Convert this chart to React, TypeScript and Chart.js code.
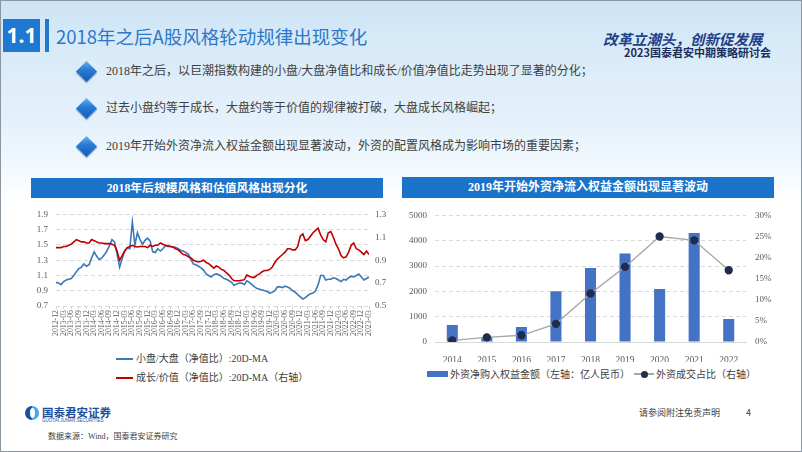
import React, { useEffect, useRef } from 'react';
import { Chart, registerables } from 'chart.js';

Chart.register(...registerables);

const SERIF = '"Liberation Serif", "Times New Roman", "Noto Sans CJK SC", serif';
const CJK = '"Noto Sans CJK SC", "Noto Sans", sans-serif';

// ---------- left chart data ----------
const QUARTER_LABELS = [
  '2012-12',
  '2013-03', '2013-06', '2013-09', '2013-12',
  '2014-03', '2014-06', '2014-09', '2014-12',
  '2015-03', '2015-06', '2015-09', '2015-12',
  '2016-03', '2016-06', '2016-09', '2016-12',
  '2017-03', '2017-06', '2017-09', '2017-12',
  '2018-03', '2018-06', '2018-09', '2018-12',
  '2019-03', '2019-06', '2019-09', '2019-12',
  '2020-03', '2020-06', '2020-09', '2020-12',
  '2021-03', '2021-06', '2021-09', '2021-12',
  '2022-03', '2022-06', '2022-09', '2022-12',
  '2023-03',
];

// monthly readings, 2012-12 .. 2023-03
const SMALL_LARGE = [
  1.01, 1.00, 0.98, 1.02, 1.04, 1.05, 1.06, 1.10, 1.15, 1.19, 1.21, 1.25,
  1.22, 1.24, 1.33, 1.41, 1.35, 1.31, 1.33, 1.37, 1.42, 1.49, 1.57, 1.54,
  1.38, 1.21, 1.32, 1.42, 1.46, 1.45, 1.80, 1.50, 1.66, 1.57, 1.51, 1.56,
  1.59, 1.55, 1.41, 1.40, 1.45, 1.42, 1.45, 1.49, 1.48, 1.48, 1.47, 1.47,
  1.45, 1.43, 1.42, 1.40, 1.38, 1.31, 1.25, 1.24, 1.22, 1.20, 1.17, 1.12,
  1.10, 1.08, 1.11, 1.12, 1.11, 1.09, 1.06, 1.05, 1.03, 1.01, 0.97, 0.99,
  1.00, 1.00, 0.98, 1.03, 1.01, 0.98, 0.95, 0.93, 0.92, 0.91, 0.90, 0.89,
  0.87, 0.88, 0.90, 0.95, 0.95, 0.94, 0.96, 0.95, 0.93, 0.90, 0.88, 0.85,
  0.82, 0.79, 0.81, 0.84, 0.86, 0.87, 0.90, 0.98, 1.10, 1.10, 1.04, 1.05,
  1.05, 1.07, 1.06, 1.04, 1.02, 1.05, 1.04, 1.07, 1.09, 1.08, 1.10, 1.12,
  1.08, 1.04, 1.06, 1.08,
];

const GROWTH_VALUE = [
  1.01, 1.01, 1.01, 1.02, 1.02, 1.03, 1.04, 1.06, 1.08, 1.07, 1.06, 1.06,
  1.05, 1.05, 1.08, 1.07, 1.06, 1.05, 1.05, 1.045, 1.045, 1.045, 1.04, 1.03,
  0.98, 0.90, 0.94, 0.98, 1.01, 1.02, 1.03, 1.02, 1.015, 1.02, 1.02, 1.02,
  1.01, 1.03, 1.02, 1.03, 1.03, 1.05, 1.04, 1.03, 1.025, 1.02, 1.015, 1.00,
  0.99, 0.97, 0.95, 0.945, 0.93, 0.92, 0.90, 0.89, 0.885, 0.89, 0.90, 0.88,
  0.87, 0.85, 0.83, 0.85, 0.84, 0.82, 0.81, 0.79, 0.77, 0.74, 0.72, 0.72,
  0.72, 0.725, 0.73, 0.77, 0.76, 0.75, 0.75, 0.77, 0.78, 0.80, 0.81, 0.81,
  0.82, 0.84, 0.88, 0.91, 0.93, 0.95, 0.97, 1.00, 1.00, 0.99, 0.99, 1.02,
  1.11, 1.13, 1.07, 1.08, 1.11, 1.14, 1.16, 1.18, 1.12, 1.08, 1.06, 1.14,
  1.15, 1.10, 1.04, 1.00, 0.94, 0.92, 0.93, 0.97, 1.03, 1.05, 1.00, 0.99,
  0.97, 0.95, 0.98, 0.95,
];

const LEFT_LEGEND = ['小盘/大盘（净值比）:20D-MA', '成长/价值（净值比）:20D-MA（右轴）'];

// ---------- right chart data ----------
const YEARS = ['2014', '2015', '2016', '2017', '2018', '2019', '2020', '2021', '2022'];
const NET_BUY = [670, 190, 590, 2000, 2920, 3500, 2090, 4300, 910];
const TURNOVER_SHARE = [0.4, 1.1, 1.6, 4.3, 11.5, 17.8, 25.0, 24.1, 17.0];
const RIGHT_LEGEND = ['外资净购入权益金额（左轴：亿人民币）', '外资成交占比（右轴）'];

const BULLETS = [
  '2018年之后，以巨潮指数构建的小盘/大盘净值比和成长/价值净值比走势出现了显著的分化；',
  '过去小盘约等于成长，大盘约等于价值的规律被打破，大盘成长风格崛起；',
  '2019年开始外资净流入权益金额出现显著波动，外资的配置风格成为影响市场的重要因素；',
];

const GRID = '#d9d9d9';
const TICK = '#595959';

function StyleChart() {
  const ref = useRef<HTMLCanvasElement>(null);
  useEffect(() => {
    const chart = new Chart(ref.current!, {
      type: 'line',
      data: {
        datasets: [
          {
            label: LEFT_LEGEND[0],
            data: SMALL_LARGE.map((y, i) => ({ x: i, y })),
            yAxisID: 'y',
            borderColor: '#3a78b6',
            borderWidth: 1.6,
            pointRadius: 0,
            tension: 0,
            order: 2,
          },
          {
            label: LEFT_LEGEND[1],
            data: GROWTH_VALUE.map((y, i) => ({ x: i, y })),
            yAxisID: 'y1',
            borderColor: '#c00000',
            borderWidth: 1.6,
            pointRadius: 0,
            tension: 0,
            order: 1,
          },
        ],
      },
      options: {
        animation: false,
        responsive: false,
        maintainAspectRatio: false,
        layout: { padding: { top: 9, left: 0, right: 0, bottom: 0 } },
        plugins: { legend: { display: false }, tooltip: { enabled: false } },
        scales: {
          x: {
            type: 'linear',
            min: 0,
            max: 123,
            ticks: {
              stepSize: 3,
              autoSkip: false,
              maxRotation: 90,
              minRotation: 90,
              padding: 1,
              color: TICK,
              font: { family: SERIF, size: 7.8 },
              callback: (v: any) => QUARTER_LABELS[Math.round(Number(v) / 3)] ?? '',
            },
            grid: { drawOnChartArea: false, drawTicks: true, tickLength: 3, color: '#d0d0d0' },
            border: { display: false },
            afterFit: (s: any) => { s.height = 34; },
          },
          y: {
            position: 'left',
            min: 0.7,
            max: 1.9,
            ticks: {
              stepSize: 0.2,
              padding: 8,
              color: TICK,
              font: { family: SERIF, size: 9 },
              callback: (v: any) => Number(v).toFixed(1),
            },
            grid: { color: GRID, drawTicks: false },
            border: { display: false, dash: [4, 3] },
            afterFit: (s: any) => { s.width = 35; },
          },
          y1: {
            position: 'right',
            min: 0.5,
            max: 1.3,
            ticks: {
              stepSize: 0.2,
              padding: 6,
              color: TICK,
              font: { family: SERIF, size: 9 },
              callback: (v: any) => Number(v).toFixed(1),
            },
            grid: { drawOnChartArea: false, drawTicks: false },
            border: { display: false },
            afterFit: (s: any) => { s.width = 27; },
          },
        },
      },
    } as any);
    return () => chart.destroy();
  }, []);
  return (
    <canvas
      ref={ref}
      width={375}
      height={139}
      style={{ position: 'absolute', left: 20, top: 200, width: 375, height: 139 }}
    />
  );
}

function FlowChart() {
  const ref = useRef<HTMLCanvasElement>(null);
  useEffect(() => {
    const chart = new Chart(ref.current!, {
      type: 'bar',
      data: {
        labels: YEARS,
        datasets: [
          {
            type: 'line',
            label: RIGHT_LEGEND[1],
            data: TURNOVER_SHARE,
            yAxisID: 'y1',
            borderColor: '#a6a6a6',
            borderWidth: 1.3,
            pointRadius: 3.5,
            pointBackgroundColor: '#1f2c4c',
            pointBorderColor: '#1f2c4c',
            tension: 0,
            order: 1,
          },
          {
            type: 'bar',
            label: RIGHT_LEGEND[0],
            data: NET_BUY,
            yAxisID: 'y',
            backgroundColor: '#4472c4',
            barPercentage: 0.32,
            categoryPercentage: 1,
            order: 2,
          },
        ],
      },
      options: {
        animation: false,
        responsive: false,
        maintainAspectRatio: false,
        layout: { padding: { top: 10, left: 0, right: 0, bottom: 0 } },
        plugins: { legend: { display: false }, tooltip: { enabled: false } },
        scales: {
          x: {
            grid: { display: false },
            border: { display: true, color: GRID, width: 1 },
            ticks: { color: TICK, padding: 5, autoSkip: false, maxRotation: 0, font: { family: SERIF, size: 9.5 } },
            afterFit: (s: any) => { s.height = 20; },
          },
          y: {
            position: 'left',
            min: 0,
            max: 5000,
            ticks: {
              stepSize: 1000,
              padding: 8,
              color: TICK,
              font: { family: SERIF, size: 9 },
              callback: (v: any) => String(Math.round(Number(v))),
            },
            grid: { color: GRID, drawTicks: false },
            border: { display: false, dash: [4, 3] },
            afterFit: (s: any) => { s.width = 34; },
          },
          y1: {
            position: 'right',
            min: 0,
            max: 30,
            ticks: {
              stepSize: 5,
              padding: 9,
              color: TICK,
              font: { family: SERIF, size: 9 },
              callback: (v: any) => `${v}%`,
            },
            grid: { drawOnChartArea: false, drawTicks: false },
            border: { display: false },
            afterFit: (s: any) => { s.width = 45; },
          },
        },
      },
    } as any);
    return () => chart.destroy();
  }, []);
  return (
    <canvas
      ref={ref}
      width={390}
      height={161}
      style={{ position: 'absolute', left: 400, top: 200, width: 390, height: 161 }}
    />
  );
}

const abs = (s: React.CSSProperties): React.CSSProperties => ({ position: 'absolute', ...s });

function Diamond({ cx, cy }: { cx: number; cy: number }) {
  const side = 15;
  return (
    <div
      style={abs({
        left: cx - side / 2,
        top: cy - side / 2,
        width: side,
        height: side,
        transform: 'rotate(45deg)',
        background: 'linear-gradient(135deg, #6fb0ea 0%, #2a7dd4 40%, #1258b8 100%)',
        boxShadow: '1px 1px 1px rgba(0,40,100,0.35)',
      })}
    />
  );
}

export default function App() {
  const bulletY = [70, 107, 145];
  return (
    <div
      style={{
        position: 'fixed',
        left: 0,
        top: 0,
        width: 802,
        height: 452,
        overflow: 'hidden',
        boxSizing: 'border-box',
        border: '1px solid #8c96a0',
        background:
          'linear-gradient(180deg, #cde4f6 0px, #d9ebf8 50px, #e4f1fb 120px, #f1f8fd 165px, #ffffff 200px, #ffffff 452px)',
        fontFamily: CJK,
      }}
    >
      {/* header */}
      <div
        style={abs({
          left: 2,
          top: 18,
          width: 37,
          height: 33,
          background: '#1f78d2',
          color: '#fff',
          fontFamily: '"Noto Sans", "Liberation Sans", sans-serif',
          fontWeight: 700,
          fontSize: 21,
          lineHeight: '33px',
          textAlign: 'center',
        })}
      >
        1.1
      </div>
      <div style={abs({ left: 44, top: 18, width: 4, height: 33, background: '#1f78d2' })} />
      <div
        style={abs({
          left: 55,
          top: 22,
          height: 26,
          lineHeight: '26px',
          fontSize: 18.5,
          color: '#2e78c7',
          whiteSpace: 'nowrap',
        })}
      >
        2018年之后A股风格轮动规律出现变化
      </div>
      <div
        style={abs({
          left: 602,
          top: 29,
          height: 18,
          lineHeight: '18px',
          fontSize: 14.5,
          fontStyle: 'italic',
          fontWeight: 700,
          color: '#1e3f88',
          whiteSpace: 'nowrap',
        })}
      >
        改革立潮头，创新促发展
      </div>
      <div
        style={abs({
          left: 623,
          top: 44,
          height: 14,
          lineHeight: '14px',
          fontSize: 11,
          fontWeight: 700,
          color: '#1d2d5c',
          whiteSpace: 'nowrap',
        })}
      >
        2023国泰君安中期策略研讨会
      </div>

      {/* bullets */}
      {BULLETS.map((t, i) => (
        <React.Fragment key={i}>
          <Diamond cx={85} cy={bulletY[i]} />
          <div
            style={abs({
              left: 105,
              top: bulletY[i] - 9,
              height: 18,
              lineHeight: '18px',
              fontSize: 12,
              color: '#404040',
              whiteSpace: 'nowrap',
              fontFamily: '"Liberation Serif", "Noto Sans CJK SC", serif',
            })}
          >
            {t}
          </div>
        </React.Fragment>
      ))}

      {/* left chart */}
      <div
        style={abs({
          left: 30,
          top: 177,
          width: 352,
          height: 20,
          background: '#1a73c9',
          color: '#fff',
          fontWeight: 700,
          fontSize: 11.8,
          lineHeight: '20px',
          textAlign: 'center',
          fontFamily: '"Liberation Serif", "Noto Sans CJK SC", serif',
        })}
      >
        2018年后规模风格和估值风格出现分化
      </div>
      <StyleChart />
      {[0, 1].map((i) => (
        <React.Fragment key={i}>
          <div
            style={abs({
              left: 115,
              top: 357 + i * 19,
              width: 17,
              height: 2,
              background: i === 0 ? '#3a78b6' : '#c00000',
            })}
          />
          <div
            style={abs({
              left: 135,
              top: 350 + i * 19,
              height: 16,
              lineHeight: '16px',
              fontSize: 10,
              color: '#404040',
              whiteSpace: 'nowrap',
              fontFamily: '"Liberation Serif", "Noto Sans CJK SC", serif',
            })}
          >
            {LEFT_LEGEND[i]}
          </div>
        </React.Fragment>
      ))}

      {/* right chart */}
      <div
        style={abs({
          left: 401,
          top: 176,
          width: 372,
          height: 21,
          background: '#1a73c9',
          color: '#fff',
          fontWeight: 700,
          fontSize: 12,
          lineHeight: '21px',
          textAlign: 'center',
          fontFamily: '"Liberation Serif", "Noto Sans CJK SC", serif',
        })}
      >
        2019年开始外资净流入权益金额出现显著波动
      </div>
      <FlowChart />
      <div style={abs({ left: 426, top: 370, width: 21, height: 6, background: '#4472c4' })} />
      <div
        style={abs({
          left: 449,
          top: 365,
          height: 16,
          lineHeight: '16px',
          fontSize: 10,
          color: '#404040',
          whiteSpace: 'nowrap',
        })}
      >
        {RIGHT_LEGEND[0]}
      </div>
      <div style={abs({ left: 633, top: 372, width: 20, height: 1.5, background: '#a6a6a6' })} />
      <div
        style={abs({
          left: 639.5,
          top: 369.5,
          width: 7,
          height: 7,
          borderRadius: '50%',
          background: '#1f2c4c',
        })}
      />
      <div
        style={abs({
          left: 655,
          top: 365,
          height: 16,
          lineHeight: '16px',
          fontSize: 10,
          color: '#404040',
          whiteSpace: 'nowrap',
        })}
      >
        {RIGHT_LEGEND[1]}
      </div>

      {/* footer */}
      <div
        style={abs({
          left: 24,
          top: 405,
          width: 14,
          height: 14,
          borderRadius: '50%',
          background: 'linear-gradient(90deg, #1b4f9f 0%, #1b4f9f 50%, #49a6e0 50%, #49a6e0 100%)',
        })}
      />
      <div
        style={abs({
          left: 29,
          top: 407,
          width: 5,
          height: 10,
          borderRadius: '50%',
          background: '#ffffff',
        })}
      />
      <div
        style={abs({
          left: 41,
          top: 404,
          height: 14,
          lineHeight: '14px',
          fontSize: 11.5,
          fontWeight: 700,
          color: '#1c4f9c',
          whiteSpace: 'nowrap',
        })}
      >
        国泰君安证券
      </div>
      <div
        style={abs({
          left: 41,
          top: 417,
          height: 6,
          lineHeight: '6px',
          fontSize: 4.5,
          color: '#1c4f9c',
          whiteSpace: 'nowrap',
          fontFamily: '"Liberation Sans", sans-serif',
        })}
      >
        GUOTAI JUNAN SECURITIES
      </div>
      <div
        style={abs({
          left: 638,
          top: 405,
          height: 14,
          lineHeight: '14px',
          fontSize: 9,
          color: '#404040',
          whiteSpace: 'nowrap',
        })}
      >
        请参阅附注免责声明
      </div>
      <div
        style={abs({
          left: 745,
          top: 405,
          height: 14,
          lineHeight: '14px',
          fontSize: 9,
          color: '#404040',
        })}
      >
        4
      </div>
      <div
        style={abs({
          left: 47,
          top: 430,
          height: 12,
          lineHeight: '12px',
          fontSize: 8,
          color: '#404040',
          whiteSpace: 'nowrap',
          fontFamily: '"Liberation Serif", "Noto Sans CJK SC", serif',
        })}
      >
        数据来源：Wind，国泰君安证券研究
      </div>
    </div>
  );
}
